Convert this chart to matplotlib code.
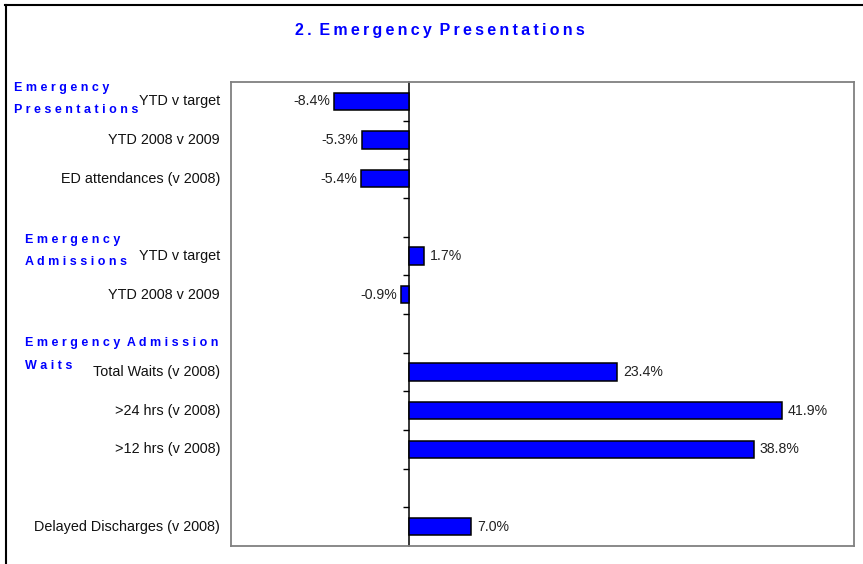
import matplotlib.pyplot as plt
import matplotlib.transforms as mtransforms
from matplotlib.lines import Line2D

# Daten: 12 Zeilen, leere Zeilen als Abstand zwischen den Gruppen
labels = ["YTD v target", "YTD 2008 v 2009", "ED attendances (v 2008)", "",
          "YTD v target", "YTD 2008 v 2009", "",
          "Total Waits (v 2008)", ">24 hrs (v 2008)", ">12 hrs (v 2008)", "",
          "Delayed Discharges (v 2008)"]
values = [-8.4, -5.3, -5.4, None,
          1.7, -0.9, None,
          23.4, 41.9, 38.8, None,
          7.0]
groups = ["Emergency\nPresentations", "Emergency\nAdmissions",
          "Emergency Admission\nWaits"]
title = "2. Emergency Presentations"

BLUE = "#0000ff"
plt.rcParams['font.family'] = ['Liberation Sans', 'DejaVu Sans']

fig = plt.figure(figsize=(8.63, 5.64), dpi=100)
ax = fig.add_axes([231 / 863, 1 - 546 / 564, (854 - 231) / 863, (546 - 82) / 564])

rows = list(range(len(labels)))
for y, v in zip(rows, values):
    if v is None:
        continue
    ax.barh(y, v, height=0.45, color=BLUE, edgecolor="black", linewidth=1.1, zorder=3)
    if v >= 0:
        ax.annotate(f"{v:.1f}%", (v, y), xytext=(4, 0), textcoords="offset points",
                    ha="left", va="center", fontsize=10.2, color="#222222")
    else:
        ax.annotate(f"{v:.1f}%", (v, y), xytext=(-3, 0), textcoords="offset points",
                    ha="right", va="center", fontsize=10.2, color="#222222")

ax.set_xlim(-20, 50)
ax.set_ylim(len(labels) - 0.5, -0.5)

# Kategorie-Beschriftungen links vom Rahmen
trans = mtransforms.blended_transform_factory(ax.transAxes, ax.transData)
off = mtransforms.offset_copy(trans, fig=fig, x=-11, y=0, units="dots")
for y, lab in zip(rows, labels):
    if lab:
        ax.text(0, y, lab, transform=off, ha="right", va="center", fontsize=10.4, color="#111111")


# gesperrte Schrift: Leerzeichen zwischen die Buchstaben
def spaced(s, gap=" ", word_gap="  "):
    return word_gap.join(gap.join(w) for w in s.split(" "))


header_pos = [(14, -0.35, 0.22), (25, 3.59, 4.16), (25, 6.25, 6.84)]
for g, (xp, y1, y2) in zip(groups, header_pos):
    l1, l2 = g.split("\n")
    for txt, yy in ((l1, y1), (l2, y2)):
        t = mtransforms.offset_copy(trans, fig=fig, x=xp - 231, y=0, units="dots")
        ax.text(0, yy, spaced(txt), transform=t, ha="left", va="center",
                fontsize=9, fontweight="bold", color=BLUE)

# Achse bei Null mit kleinen Strichen
ax.spines["left"].set_position(("data", 0))
ax.spines["left"].set_color("black")
ax.spines["left"].set_linewidth(1.1)
for s in ("top", "right", "bottom"):
    ax.spines[s].set_color("#808080")
    ax.spines[s].set_linewidth(1.3)
ax.add_line(Line2D([0, 0], [0, 1], transform=ax.transAxes, color="#808080",
                   linewidth=1.3, clip_on=False))
ax.set_yticks([i + 0.5 for i in range(len(labels) - 1)])
ax.set_yticklabels([])
ax.tick_params(axis="y", direction="out", length=4, width=1, color="black")
ax.set_xticks([])

fig.text(440 / 863, 1 - 31 / 564, spaced(title, gap="\u2009", word_gap=" \u2009"),
         ha="center", va="center", fontsize=11.5, fontweight="bold", color=BLUE)

# äußerer Rahmen (rechts und unten abgeschnitten)
fig.add_artist(Line2D([5 / 863, 1.0], [1 - 5 / 564, 1 - 5 / 564], transform=fig.transFigure,
                      color="black", linewidth=1.5))
fig.add_artist(Line2D([6 / 863, 6 / 863], [0, 1 - 5 / 564], transform=fig.transFigure,
                      color="black", linewidth=1.5))

fig.savefig("out.png", dpi=100)
